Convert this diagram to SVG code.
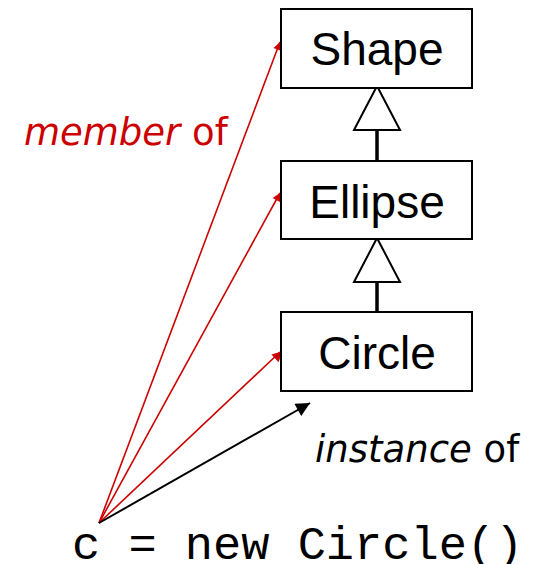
<svg xmlns="http://www.w3.org/2000/svg" width="538" height="564" viewBox="0 0 538 564">
<style>
.box{fill:#fff;stroke:#000;stroke-width:2}
.lbl{font-family:"Liberation Sans",Arial,sans-serif;font-size:46px;text-anchor:middle;fill:#000}
.inh{stroke:#000;stroke-width:3.5}
.tri{fill:#fff;stroke:#000;stroke-width:2}
.mem{stroke:#cc0000;stroke-width:1.6;fill:none}
.inst{stroke:#000;stroke-width:2;fill:none}
.note{font-family:"DejaVu Sans",Verdana,sans-serif;font-size:37px}
.code{font-family:"Liberation Mono","Courier New",Courier,monospace;font-size:47px;fill:#000}
</style>
<defs>
<marker id="ar" viewBox="0 0 10 10" refX="10" refY="5" markerWidth="8" markerHeight="8" markerUnits="userSpaceOnUse" orient="auto" style="overflow:visible">
<path d="M0,0 L10,5 L0,10 Z" fill="#cc0000" transform="scale(1.3)"/>
</marker>
<marker id="ab" viewBox="0 0 10 10" refX="10" refY="5" markerWidth="16" markerHeight="14" markerUnits="userSpaceOnUse" orient="auto">
<path d="M0,0 L10,5 L0,10 Z" fill="#000"/>
</marker>
</defs>
<g id="connectors">
<line class="inh" x1="377" y1="128" x2="377" y2="161"/>
<polygon class="tri" points="377,86 354,130 400,130"/>
<line class="inh" x1="377" y1="280" x2="377" y2="312"/>
<polygon class="tri" points="377,238 354,282 400,282"/>
<line class="mem" x1="99" y1="523" x2="280" y2="42" marker-end="url(#ar)"/>
<line class="mem" x1="99" y1="523" x2="280" y2="193" marker-end="url(#ar)"/>
<line class="mem" x1="99" y1="523" x2="280" y2="352" marker-end="url(#ar)"/>
<line class="inst" x1="99" y1="523" x2="310" y2="403" marker-end="url(#ab)"/>
</g>
<g id="shape">
<rect class="box" x="281" y="9" width="191" height="79"/>
<text class="lbl" x="377" y="65">Shape</text>
</g>
<g id="ellipse">
<rect class="box" x="281" y="161" width="191" height="78"/>
<text class="lbl" x="377" y="218">Ellipse</text>
</g>
<g id="circle">
<rect class="box" x="281" y="312" width="191" height="79"/>
<text class="lbl" x="377" y="369">Circle</text>
</g>
<text class="note" x="24" y="145" fill="#cc0000"><tspan font-style="italic">member</tspan> of</text>
<text class="note" x="315" y="462" fill="#000"><tspan font-style="italic">instance</tspan> of</text>
<text class="code" x="72" y="559">c = new Circle()</text>
</svg>
